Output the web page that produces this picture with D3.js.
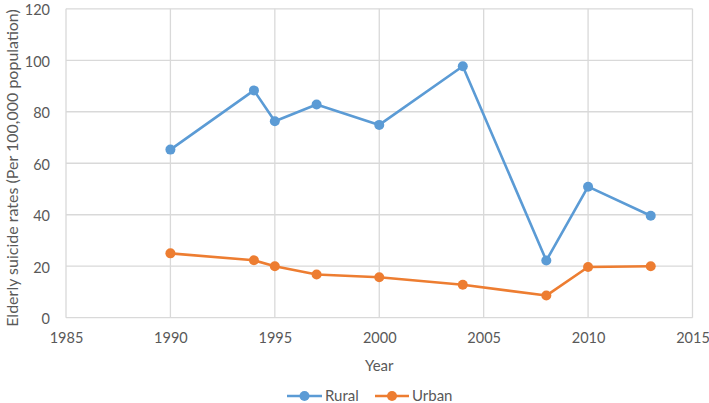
<!DOCTYPE html>
<html><head><meta charset="utf-8">
<script src="https://cdn.jsdelivr.net/npm/d3@7"></script>
<style>body{margin:0;background:#fff;} text{font-family:Lato, "Open Sans", sans-serif;fill:#595959;}</style>
</head><body><svg id="c" width="709" height="403"></svg>
<script>
const years = [1990, 1994, 1995, 1997, 2000, 2004, 2008, 2010, 2013];
const rural = [65.3, 88.3, 76.3, 82.8, 74.9, 97.7, 22.2, 50.9, 39.6];
const urban = [25.0, 22.3, 20.0, 16.8, 15.7, 12.8, 8.6, 19.7, 20.0];
const seriesNames = ["Rural", "Urban"];
const colors = ["#5B9BD5", "#ED7D31"];
const xTicks = [1985, 1990, 1995, 2000, 2005, 2010, 2015];
const yTicks = [0, 20, 40, 60, 80, 100, 120];

const svg = d3.select("#c");
const x = d3.scaleLinear().domain([1985, 2015]).range([66, 692.5]);
const y = d3.scaleLinear().domain([0, 120]).range([317.7, 8.8]);

// grid
svg.append("g").selectAll("line").data(yTicks).join("line")
  .attr("x1", x(1985)).attr("x2", x(2015)).attr("y1", d => y(d)).attr("y2", d => y(d))
  .attr("stroke", "#d9d9d9").attr("stroke-width", 1.3);
svg.append("g").selectAll("line").data(xTicks).join("line")
  .attr("x1", d => x(d)).attr("x2", d => x(d)).attr("y1", y(0)).attr("y2", y(120))
  .attr("stroke", "#d9d9d9").attr("stroke-width", 1.3);

// axes labels
const fs = 14.5;
const xAxis = d3.axisBottom(x).tickValues(xTicks).tickFormat(d3.format("d")).tickSize(0).tickPadding(15);
const gx = svg.append("g").attr("transform", `translate(0,${y(0)})`).call(xAxis);
gx.select(".domain").remove();
gx.selectAll("text").attr("font-size", fs).style("font-family", "Lato").attr("fill", "#595959");
const yAxis = d3.axisLeft(y).tickValues(yTicks).tickSize(0).tickPadding(16);
const gy = svg.append("g").attr("transform", `translate(${x(1985)},0)`).call(yAxis);
gy.select(".domain").remove();
gy.selectAll("text").attr("font-size", fs).style("font-family", "Lato").attr("fill", "#595959").attr("dy", "0.4em");

svg.append("text").attr("x", (x(1985) + x(2015)) / 2).attr("y", 366).attr("dy", "0.35em")
  .attr("text-anchor", "middle").attr("font-size", 15).text("Year");
svg.append("text").attr("transform", `translate(12,${168}) rotate(-90)`).attr("dy", "0.35em")
  .attr("text-anchor", "middle").attr("font-size", 16).text("Elderly suicide rates (Per 100,000 population)");

const line = d3.line().x((d, i) => x(years[i])).y(d => y(d));
[rural, urban].forEach((s, k) => {
  svg.append("path").attr("d", line(s)).attr("fill", "none").attr("stroke", colors[k]).attr("stroke-width", 2.6).attr("stroke-linejoin", "round");
  svg.append("g").selectAll("circle").data(s).join("circle")
    .attr("cx", (d, i) => x(years[i])).attr("cy", d => y(d)).attr("r", 5).attr("fill", colors[k]);
});

// legend
const leg = [{x0: 287, x1: 322, tx: 325}, {x0: 375, x1: 409, tx: 412}];
seriesNames.forEach((n, k) => {
  const L = leg[k], ly = 396;
  svg.append("line").attr("x1", L.x0).attr("x2", L.x1).attr("y1", ly).attr("y2", ly).attr("stroke", colors[k]).attr("stroke-width", 2.6);
  svg.append("circle").attr("cx", (L.x0 + L.x1) / 2).attr("cy", ly).attr("r", 5).attr("fill", colors[k]);
  svg.append("text").attr("x", L.tx).attr("y", ly).attr("dy", "0.35em").attr("font-size", 15).text(n);
});
</script></body></html>
